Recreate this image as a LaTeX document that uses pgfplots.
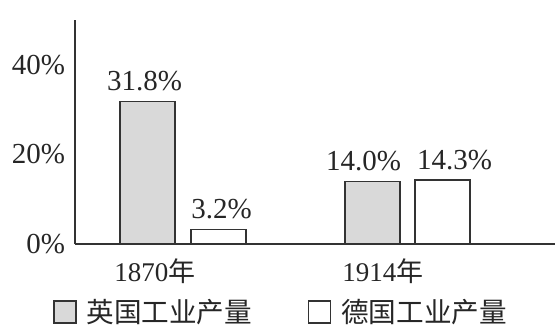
\documentclass[border=0pt]{standalone}
\usepackage{fontspec}
\setmainfont{Liberation Serif}
\newfontfamily\cjk{Noto Sans CJK SC}
\usepackage{pgfplots}
\pgfplotsset{compat=1.18}

\begin{document}
\begin{tikzpicture}
\begin{axis}[
  name=ax,
  scale only axis,
  width=240pt, height=112pt,
  xmin=75, xmax=555, ymin=0, ymax=50,
  axis x line=bottom, axis y line=left,
  axis line style={-, line width=0.7pt, black!80},
  major tick length=0pt,
  ytick={0,20,40},
  yticklabels={0\%,20\%,40\%},
  yticklabel style={font=\fontsize{14.5}{17}\selectfont, xshift=-1.5pt, black!85},
  xtick={155,383},
  xticklabels={1870{\cjk 年},1914{\cjk 年}},
  xticklabel style={font=\fontsize{13.5}{16}\selectfont, yshift=-4pt, black!85},
  ybar, bar width=55, bar shift=0pt,
  /pgf/number format/assume math mode=true,
  nodes near coords={\pgfmathprintnumber[fixed,fixed zerofill,precision=1]{\pgfplotspointmeta}\%},
  every node near coord/.append style={font=\fontsize{14.5}{17}\selectfont, black!85, yshift=1.5pt},
  legend image code/.code={\draw[#1] (0pt,-5.5pt) rectangle (11pt,5.5pt);},
  legend columns=2,
  legend style={at={(-0.046,-0.304)}, anchor=west, draw=none, inner sep=0pt,
    font=\cjk\fontsize{13.8}{16}\selectfont, text=black!85,
    nodes={inner xsep=0pt},
    /tikz/every odd column/.append style={column sep=5pt},
    /tikz/every even column/.append style={column sep=28pt}},
]
% 英国工业产量
\addplot[draw=black!80, line width=0.6pt, fill=black!15,
  every node near coord/.append style={xshift=-1.5pt}] coordinates {(147.5,31.8)};
\addlegendentry{英国工业产量}
% 德国工业产量
\addplot[draw=black!80, line width=0.6pt, fill=white,
  every node near coord/.append style={xshift=1.5pt}] coordinates {(218.5,3.2)};
\addlegendentry{德国工业产量}
% 1914: labels pushed apart so they do not collide
\addplot[forget plot, draw=black!80, line width=0.6pt, fill=black!15,
  every node near coord/.append style={xshift=-4.5pt}] coordinates {(372.5,14.0)};
\addplot[forget plot, draw=black!80, line width=0.6pt, fill=white,
  every node near coord/.append style={xshift=6pt}] coordinates {(442.5,14.3)};
\end{axis}
\path (ax.south west) ++(-37.5pt,-44.5pt) rectangle ++(279.5pt,166.5pt);
\end{tikzpicture}
\end{document}
